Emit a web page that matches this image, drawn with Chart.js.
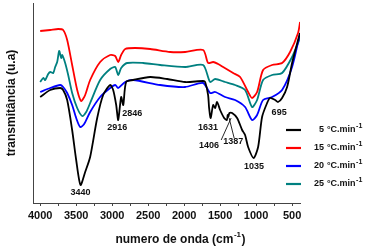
<!DOCTYPE html>
<html>
<head>
<meta charset="utf-8">
<script src="https://cdn.jsdelivr.net/npm/chart.js@4.4.0/dist/chart.umd.min.js"></script>
<style>
  html, body { margin: 0; padding: 0; background: #fff; }
  #wrap { width: 371px; height: 248px; }
</style>
</head>
<body>
<div id="wrap"><canvas id="ftir" width="371" height="248"></canvas></div>
<script>
// series names (heating rates)
const seriesNames = ["5", "15", "20", "25"];

// 5 °C/min (black)
const wn5 = [4000, 3861, 3722, 3681, 3625, 3556, 3500, 3440, 3375, 3306, 3208, 3125, 3028, 2986, 2944, 2916, 2875, 2846, 2806, 2708, 2472, 2236, 1986, 1736, 1708, 1667, 1653, 1631, 1597, 1569, 1542, 1500, 1444, 1406, 1395, 1387, 1370, 1333, 1264, 1194, 1153, 1111, 1035, 972, 917, 847, 806, 736, 695, 639, 569, 500, 417, 389];
const t5  = [106, 113, 115, 113, 103, 73, 43, 18, 31, 46, 85, 108, 118, 113, 98, 83, 106, 98, 121, 123, 126, 124, 121, 122, 121, 108, 95, 85, 98, 95, 101, 93, 85, 83, 88, 86, 90, 90, 85, 73, 68, 56, 45, 56, 86, 100, 105, 103, 101, 105, 116, 140, 163, 170];

// 15 °C/min (red)
const wn15 = [4000, 3861, 3750, 3681, 3625, 3556, 3486, 3431, 3375, 3306, 3167, 3028, 2958, 2916, 2875, 2819, 2681, 2472, 2194, 1986, 1736, 1667, 1597, 1528, 1458, 1319, 1222, 1111, 1056, 986, 903, 778, 639, 528, 417, 389];
const t15  = [172, 173, 174, 173, 163, 138, 113, 102, 108, 123, 141, 148, 147, 141, 148, 154, 155, 154, 151, 151, 153, 140, 141, 139, 136, 130, 126, 111, 105, 111, 133, 138, 140, 151, 170, 181];

// 20 °C/min (blue)
const wn20 = [4000, 3861, 3722, 3681, 3625, 3556, 3500, 3444, 3389, 3306, 3167, 3028, 2958, 2916, 2819, 2708, 2333, 1986, 1736, 1639, 1569, 1431, 1292, 1153, 1056, 986, 903, 778, 639, 500, 389];
const t20  = [111, 115, 118, 116, 110, 98, 85, 76, 79, 91, 106, 115, 118, 115, 121, 123, 118, 116, 120, 110, 111, 106, 103, 96, 83, 88, 103, 106, 113, 136, 170];

// 25 °C/min (teal)
const wn25 = [4000, 3958, 3931, 3889, 3861, 3819, 3792, 3764, 3736, 3708, 3694, 3653, 3611, 3556, 3486, 3417, 3361, 3306, 3167, 3028, 2958, 2916, 2875, 2792, 2569, 2333, 1986, 1736, 1639, 1569, 1431, 1292, 1153, 1056, 986, 903, 778, 639, 500, 389];
const t25  = [121, 125, 123, 129, 131, 130, 136, 141, 152, 145, 148, 140, 128, 110, 95, 87, 91, 100, 123, 134, 136, 128, 135, 140, 140, 138, 136, 138, 121, 124, 121, 118, 113, 96, 103, 123, 128, 130, 146, 165];

// band labels
const peakLabels = ["3440", "2916", "2846", "1631", "1406", "1387", "1035", "695"];

const FONT = "'Liberation Sans', Arial, sans-serif";
const colors = ["#000000", "#ff0000", "#0000ff", "#008080"];

function pts(xs, ys) {
  return xs.map((x, i) => ({ x: x, y: ys[i] }));
}

const datasets = [
  pts(wn5, t5), pts(wn15, t15), pts(wn20, t20), pts(wn25, t25)
].map((d, i) => ({
  label: seriesNames[i] + " °C.min-1",
  data: d,
  borderColor: colors[i],
  borderWidth: 1.8,
  pointRadius: 0,
  tension: 0.25,
  fill: false
}));

// where each band label sits, in data units
const labelAnchors = [
  [3440, 10], [2930, 75], [2722, 89], [1667, 75],
  [1653, 57], [1319, 61], [1028, 36], [680, 90]
];

const extras = {
  id: "extras",
  afterDraw(chart) {
    const ctx = chart.ctx;
    const xs = chart.scales.x, ys = chart.scales.y;
    const area = chart.chartArea;
    ctx.save();
    ctx.fillStyle = "#111";
    ctx.textAlign = "center";
    ctx.textBaseline = "middle";
    ctx.font = "bold 9px " + FONT;
    peakLabels.forEach((txt, i) => {
      const a = labelAnchors[i];
      ctx.fillText(txt, xs.getPixelForValue(a[0]), ys.getPixelForValue(a[1]));
    });

    // leader lines for 1406 / 1387
    ctx.strokeStyle = "#111";
    ctx.lineWidth = 0.9;
    const seg = (x1, y1, x2, y2) => {
      ctx.beginPath();
      ctx.moveTo(xs.getPixelForValue(x1), ys.getPixelForValue(y1));
      ctx.lineTo(xs.getPixelForValue(x2), ys.getPixelForValue(y2));
      ctx.stroke();
    };
    seg(1485, 63, 1347, 85);
    seg(1305, 65, 1375, 85);

    // legend
    const rowY = [130, 148, 166, 184];
    seriesNames.forEach((name, i) => {
      const y = rowY[i];
      ctx.strokeStyle = colors[i];
      ctx.lineWidth = 2.2;
      ctx.beginPath();
      ctx.moveTo(286, y);
      ctx.lineTo(301, y);
      ctx.stroke();
      ctx.fillStyle = "#111";
      ctx.font = "bold 9px " + FONT;
      ctx.textAlign = "right";
      ctx.fillText(name, 324, y);
      ctx.textAlign = "left";
      ctx.fillText("°C.min", 327, y);
      const w = ctx.measureText("°C.min").width;
      ctx.font = "bold 7px " + FONT;
      ctx.fillText("-1", 327 + w + 0.5, y - 4);
    });

    // x axis title with superscript
    ctx.font = "bold 12px " + FONT;
    const a = "numero de onda (cm";
    const wa = ctx.measureText(a).width;
    ctx.font = "bold 8px " + FONT;
    const wsup = ctx.measureText("-1").width;
    ctx.font = "bold 12px " + FONT;
    const wb = ctx.measureText(")").width;
    const total = wa + wsup + 1 + wb;
    let x0 = (area.left + area.right) / 2 + 14 - total / 2;
    const ty = 240;
    ctx.textAlign = "left";
    ctx.fillText(a, x0, ty);
    ctx.font = "bold 8px " + FONT;
    ctx.fillText("-1", x0 + wa + 0.5, ty - 5);
    ctx.font = "bold 12px " + FONT;
    ctx.fillText(")", x0 + wa + wsup + 1, ty);
    ctx.restore();
  }
};

new Chart(document.getElementById("ftir"), {
  type: "line",
  data: { datasets: datasets },
  options: {
    responsive: false,
    animation: false,
    layout: { padding: { top: 3, right: 71, left: 4, bottom: 0 } },
    plugins: { legend: { display: false }, tooltip: { enabled: false } },
    scales: {
      x: {
        type: "linear",
        reverse: true,
        min: 390,
        max: 4100,
        afterBuildTicks: (s) => {
          s.ticks = [];
          for (let v = 500; v <= 4000; v += 250) s.ticks.push({ value: v });
        },
        afterFit: (s) => { s.height = 45; },
        ticks: {
          autoSkip: false,
          maxRotation: 0,
          padding: 3,
          color: "#111",
          font: { family: FONT, size: 11, weight: "bold" },
          callback: (v) => (v % 500 === 0 ? String(v) : "")
        },
        grid: { drawOnChartArea: false, tickLength: 3, color: "#444", tickWidth: 1 },
        border: { display: true, color: "#444", width: 1 },
        title: { display: false }
      },
      y: {
        min: 0,
        max: 200,
        afterFit: (s) => { s.width = 29; },
        ticks: { display: false },
        grid: { display: false },
        border: { display: true, color: "#444", width: 1 },
        title: {
          display: true,
          text: "transmitância (u.a)",
          color: "#111",
          font: { family: FONT, size: 12, weight: "bold" },
          padding: { top: 0, bottom: 0 }
        }
      }
    }
  },
  plugins: [extras]
});
</script>
</body>
</html>
